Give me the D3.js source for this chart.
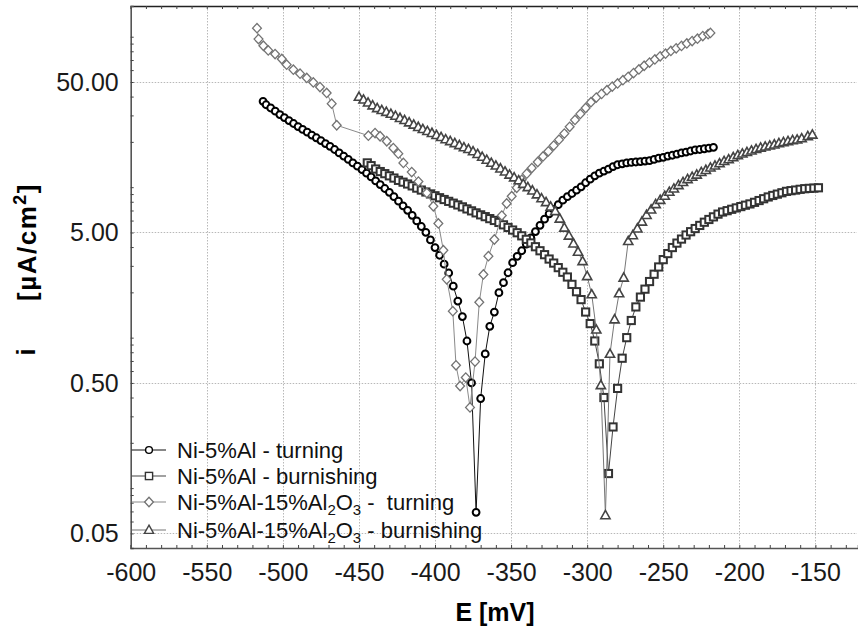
<!DOCTYPE html>
<html><head><meta charset="utf-8">
<script src="https://cdn.jsdelivr.net/npm/d3@7/dist/d3.min.js"></script>
<style>
body{margin:0;background:#fff}
svg{display:block;font-family:"Liberation Sans",Arial,sans-serif}
.leg{white-space:pre}
</style></head>
<body><svg id="chart" width="858" height="632"></svg>
<script>
// ---------- data ----------
const xTickValues = [-600,-550,-500,-450,-400,-350,-300,-250,-200,-150];
const yTickValues = [0.05,0.5,5,50];
const yTickLabels = ["0.05","0.50","5.00","50.00"];
const xTitle = "E [mV]";

const s1Name = "Ni-5%Al - turning";
const s1E = [-513,-511,-508,-505,-502,-499,-496,-493,-490,-487,-484,-481,-478,-475,-472,-469,-466,-463,-460,-457,-454,-451,-448,-445,-442,-439,-436,-433,-430,-427,-424,-421,-418,-415,-412,-409,-406,-403,-400,-397,-394,-391,-388,-385,-382,-379,-376,-373,-370,-367,-364,-361,-358,-355,-352,-349,-346,-343,-340,-337,-334,-331,-328,-325,-322,-319,-316,-313,-310,-307,-304,-301,-298,-295,-292,-289,-286,-283,-280,-277,-274,-271,-268,-265,-262,-259,-256,-253,-250,-247,-244,-241,-238,-235,-232,-229,-226,-223,-220,-217];
const s1I = [37.2,35.3,33.6,32.0,30.4,29.0,27.7,26.5,25.3,24.2,23.2,22.2,21.3,20.4,19.5,18.7,17.8,16.9,16.1,15.3,14.5,13.8,13.1,12.4,11.7,11.0,10.4,9.80,9.25,8.65,8.07,7.52,7.02,6.50,5.97,5.48,5.01,4.46,3.97,3.53,3.08,2.69,2.20,1.75,1.38,0.95,0.50,0.069,0.394,0.78,1.19,1.48,1.99,2.32,2.70,3.15,3.47,3.78,4.18,4.60,5.07,5.58,6.13,6.65,7.13,7.65,8.20,8.65,9.08,9.55,10.05,10.7,11.3,11.9,12.4,12.8,13.2,13.7,14.1,14.3,14.5,14.6,14.7,14.8,14.9,15.0,15.3,15.6,15.8,16.1,16.3,16.6,16.9,17.1,17.4,17.7,17.8,18.0,18.2,18.4];

const s2Name = "Ni-5%Al - burnishing";
const s2E = [-444.5,-442,-439,-436,-433,-430,-427,-424,-421,-418,-415,-412,-409,-406,-403,-400,-397,-394,-391,-388,-385,-382,-379,-376,-373,-370,-367,-364,-361,-358,-355,-352,-349,-346,-343,-340,-337,-334,-331,-328,-325,-322,-319,-316,-313,-310,-307,-304,-301,-298,-295,-292,-289,-286,-283,-280,-277,-274,-271,-268,-265,-262,-259,-256,-253,-250,-247,-244,-241,-238,-235,-232,-229,-226,-223,-220,-217,-214,-211,-208,-205,-202,-199,-196,-193,-190,-187,-184,-181,-178,-175,-172,-169,-166,-163,-160,-157,-154,-151,-148];
const s2I = [14.5,13.9,13.2,12.7,12.3,11.9,11.5,11.1,10.8,10.5,10.2,9.86,9.57,9.29,9.02,8.77,8.51,8.28,8.05,7.83,7.62,7.40,7.17,6.96,6.75,6.55,6.37,6.18,6.01,5.83,5.62,5.40,5.19,4.98,4.75,4.50,4.26,4.02,3.78,3.56,3.33,3.13,2.92,2.72,2.53,2.26,2.02,1.79,1.48,1.24,0.95,0.67,0.40,0.125,0.255,0.46,0.73,1.00,1.30,1.60,1.86,2.10,2.36,2.64,2.95,3.30,3.62,3.97,4.25,4.52,4.81,5.06,5.31,5.57,5.85,6.10,6.35,6.62,6.84,6.98,7.13,7.28,7.43,7.59,7.74,7.93,8.15,8.38,8.61,8.81,8.99,9.18,9.38,9.48,9.57,9.68,9.77,9.82,9.86,9.91];

const s3Name = ["Ni-5%Al-15%Al","2","O","3"," -  turning"];
const s3E = [-517,-516,-512.8,-509.6,-505.1,-500.7,-497.5,-493.1,-488.7,-484.3,-480,-475.6,-471.2,-467.9,-464.6,-443.8,-439.4,-436.1,-431.7,-427.4,-424.1,-420.8,-415.3,-410.9,-405.4,-401.1,-397.8,-394.5,-392.3,-388.3,-386.2,-383.5,-379.8,-377,-373.7,-370.9,-368.2,-364.9,-361,-356.1,-352.9,-349.6,-346.3,-343,-339.7,-336.4,-332.5,-329,-325.5,-322,-318.5,-315,-311.5,-308,-304.5,-301,-297.5,-294,-290.5,-287,-283.5,-280,-276.5,-273,-269.5,-266,-262.5,-259,-255.5,-252,-248.5,-245,-241.5,-238,-234.5,-231,-227.5,-224,-220.5,-219];
const s3I = [114,96.4,87.1,81.1,76.7,71.1,65.2,60.4,56.8,53.2,49.7,46.3,42.3,35.9,25.8,22.0,22.9,21.8,20.2,18.2,16.7,14.5,12.6,10.9,9.16,7.47,5.74,3.81,2.44,1.50,0.655,0.477,0.543,0.344,0.693,1.72,2.63,3.48,4.49,6.48,7.79,8.71,9.91,11.2,12.3,13.4,14.7,16.0,17.3,18.9,20.7,22.7,25.2,28.0,30.7,33.6,36.7,39.4,41.7,44.1,46.6,48.9,51.4,54.1,57.3,60.6,64.1,67.3,70.6,74.1,77.1,80.4,83.7,86.9,90.2,93.6,97.0,101,104,106];

const s4Name = ["Ni-5%Al-15%Al","2","O","3"," - burnishing"];
const s4E = [-450,-447,-444,-441,-438,-435,-432,-429,-426,-423,-420,-417,-414,-411,-408,-405,-402,-399,-396,-393,-390,-387,-384,-381,-378,-375,-372,-369,-366,-363,-360,-357,-354,-351,-348,-345,-342,-339,-336,-333,-330,-327,-324,-321,-318,-315,-312,-309,-306,-303,-300,-297,-294,-291,-288,-285,-282,-279,-276,-273,-270,-267,-264,-261,-258,-255,-252,-249,-246,-243,-240,-237,-234,-231,-228,-225,-222,-219,-216,-213,-210,-207,-204,-201,-198,-195,-192,-189,-186,-183,-180,-177,-174,-171,-168,-165,-162,-159,-155,-152];
const s4I = [39.8,38.2,36.5,34.9,33.5,32.5,31.6,30.7,29.8,28.8,27.9,26.9,26.0,25.1,24.3,23.6,22.9,22.2,21.5,20.8,20.2,19.6,19.0,18.4,17.9,17.3,16.6,15.9,15.2,14.5,13.9,13.3,12.7,12.1,11.6,11.1,10.5,10.0,9.50,8.95,8.43,7.94,7.41,6.92,6.17,5.38,4.76,4.22,3.72,3.22,2.56,1.94,1.13,0.483,0.066,0.78,1.32,1.97,2.50,4.38,4.79,5.31,5.89,6.53,7.10,7.71,8.22,8.75,9.31,9.79,10.3,10.8,11.3,11.7,12.1,12.6,13.0,13.5,13.9,14.4,14.9,15.3,15.8,16.3,16.7,17.1,17.5,17.9,18.3,18.6,18.9,19.2,19.6,19.9,20.2,20.5,20.7,21.1,21.8,22.3];

// ---------- layout ----------
const L = 130.7, R = 858, T = 6, B = 548;
const svg = d3.select("#chart");
const x = d3.scaleLinear().domain([-600, -122]).range([L, R]);
const y = d3.scaleLog().domain([0.04, 160]).range([B, T]);

// gridlines
const grid = svg.append("g").attr("stroke", "#b8b8b8").attr("stroke-width", 1).attr("stroke-dasharray", "1.5,1.5");
grid.selectAll("line.vx").data(xTickValues.filter(v => v > -600)).join("line")
  .attr("x1", d => Math.round(x(d)) + 0.5).attr("x2", d => Math.round(x(d)) + 0.5)
  .attr("y1", T).attr("y2", B);
grid.selectAll("line.hy").data(yTickValues).join("line")
  .attr("x1", L).attr("x2", R - 1)
  .attr("y1", d => Math.round(y(d)) + 0.5).attr("y2", d => Math.round(y(d)) + 0.5);

// axes
const minorX = d3.range(-600, -121, 10);
const minorY = [];
[0.01, 0.1, 1, 10, 100].forEach(p => { for (let k = 1; k <= 9; k++) { const v = +(p * k).toPrecision(3); if (v >= 0.04 && v <= 160) minorY.push(v); } });

const fmtX = d => (xTickValues.includes(d) ? String(d) : "");
const fmtY = d => { const i = yTickValues.findIndex(v => Math.abs(v - d) < 1e-9); return i >= 0 ? yTickLabels[i] : ""; };

const gx = svg.append("g").attr("transform", `translate(0,${B})`)
  .call(d3.axisBottom(x).tickValues(minorX).tickSize(-3).tickPadding(15).tickFormat(fmtX));
const gt = svg.append("g").attr("transform", `translate(0,${T})`)
  .call(d3.axisTop(x).tickValues(minorX).tickSize(-3).tickFormat(""));
const gy = svg.append("g").attr("transform", `translate(${L},0)`)
  .call(d3.axisLeft(y).tickValues(minorY).tickSize(-3).tickPadding(12).tickFormat(fmtY));

[gx, gt, gy].forEach(g => {
  g.select(".domain").attr("stroke", "#555").attr("stroke-width", 1.6);
  g.selectAll(".tick line").attr("stroke", "#444").attr("stroke-width", 1);
  g.selectAll(".tick text").attr("font-size", 25).attr("fill", "#1a1a1a")
    .attr("font-family", "'Liberation Sans',Arial,sans-serif");
});
gt.select(".domain").attr("stroke", "#222").attr("stroke-width", 1.4);
gy.selectAll(".tick text").attr("dy", "0.34em");

// titles
svg.append("text").attr("x", 495).attr("y", 621).attr("text-anchor", "middle")
  .attr("font-size", 25).attr("font-weight", "bold").text(xTitle);
svg.append("text").attr("transform", "translate(35,352) rotate(-90)")
  .attr("text-anchor", "middle").attr("font-size", 25).attr("font-weight", "bold").text("i");
const yt2 = svg.append("text").attr("transform", "translate(36,242) rotate(-90)")
  .attr("text-anchor", "middle").attr("font-size", 26).attr("font-weight", "bold")
  .attr("letter-spacing", 1.5);
yt2.append("tspan").text("[µA/cm");
yt2.append("tspan").attr("font-size", 18).attr("dy", -10).text("2");
yt2.append("tspan").attr("dy", 10).text("]");

// series
const series = [
  {E: s1E, I: s1I, name: s1Name, shape: "circle", stroke: "#000", line: "#111", sw: 2},
  {E: s2E, I: s2I, name: s2Name, shape: "square", stroke: "#333", line: "#444", sw: 2},
  {E: s3E, I: s3I, name: s3Name, shape: "diamond", stroke: "#737373", line: "#8a8a8a", sw: 1.3},
  {E: s4E, I: s4I, name: s4Name, shape: "triangle", stroke: "#444", line: "#777", sw: 1.6}
];

function marker(g, shape, cx, cy) {
  if (shape === "circle") {
    g.append("circle").attr("cx", cx).attr("cy", cy).attr("r", 3.4);
  } else if (shape === "square") {
    g.append("rect").attr("x", cx - 3.6).attr("y", cy - 3.6).attr("width", 7.2).attr("height", 7.2);
  } else if (shape === "diamond") {
    g.append("path").attr("d", `M${cx},${cy - 4.7}L${cx + 4.4},${cy}L${cx},${cy + 4.7}L${cx - 4.4},${cy}Z`);
  } else {
    g.append("path").attr("d", `M${cx},${cy - 4.8}L${cx + 4.6},${cy + 3.4}L${cx - 4.6},${cy + 3.4}Z`);
  }
}

const plot = svg.append("g");
series.forEach(s => {
  const pts = s.E.map((e, i) => [x(e), y(s.I[i])]);
  plot.append("path").attr("d", d3.line()(pts)).attr("fill", "none")
    .attr("stroke", s.line).attr("stroke-width", 1);
  const mg = plot.append("g").attr("fill", "#fff").attr("stroke", s.stroke).attr("stroke-width", s.sw);
  pts.forEach(p => marker(mg, s.shape, p[0], p[1]));
});

// legend
const legY = [450, 476, 502, 530];
series.forEach((s, k) => {
  const g = svg.append("g");
  g.append("line").attr("x1", L + 1).attr("x2", 166).attr("y1", legY[k]).attr("y2", legY[k])
    .attr("stroke", s.line).attr("stroke-width", 1.2);
  const mg = g.append("g").attr("fill", "#fff").attr("stroke", s.stroke).attr("stroke-width", Math.min(s.sw, 1.4));
  marker(mg, s.shape, 149, legY[k]);
  const t = g.append("text").attr("class", "leg").attr("x", 177).attr("y", legY[k] + 7.8)
    .attr("font-size", 22).attr("fill", "#111");
  if (typeof s.name === "string") {
    t.text(s.name);
  } else {
    t.append("tspan").text(s.name[0]);
    t.append("tspan").attr("font-size", 15).attr("dy", 5).text(s.name[1]);
    t.append("tspan").attr("dy", -5).text(s.name[2]);
    t.append("tspan").attr("font-size", 15).attr("dy", 5).text(s.name[3]);
    t.append("tspan").attr("dy", -5).text(s.name[4]);
  }
});
</script>
</body></html>
